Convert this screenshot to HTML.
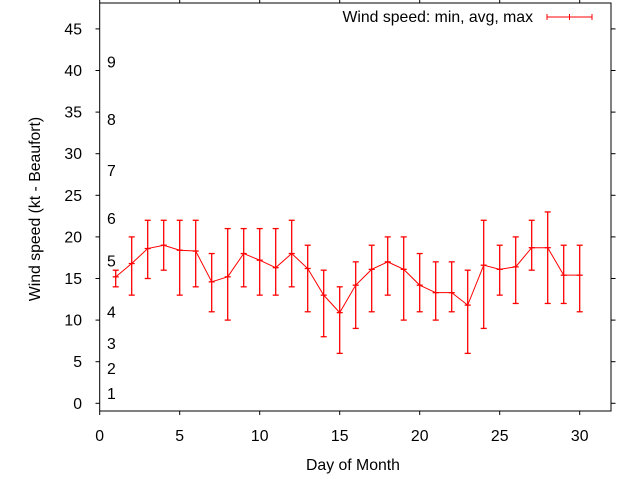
<!DOCTYPE html>
<html><head><meta charset="utf-8"><style>
html,body{margin:0;padding:0;background:#fff;}
svg{display:block;font-family:"Liberation Sans",sans-serif;}
</style></head><body>
<svg id="chart" width="640" height="480" viewBox="0 0 640 480" xmlns="http://www.w3.org/2000/svg">
<rect x="99.7" y="3" width="511.3" height="408" fill="none" stroke="#000" stroke-width="1"/>
<g id="axes"></g>
<g id="series"></g>
<text x="353" y="470" font-size="15.8" text-anchor="middle">Day of Month</text>
<text x="40" y="209" font-size="15.8" text-anchor="middle" transform="rotate(-90 40 209)">Wind speed (kt - Beaufort)</text>
<g>
<text x="533" y="22" font-size="15.8" text-anchor="end">Wind speed: min, avg, max</text>
<line x1="547" y1="17" x2="592" y2="17" stroke="#f00"/>
<line x1="547" y1="14" x2="547" y2="20" stroke="#f00"/>
<line x1="569.5" y1="14" x2="569.5" y2="20" stroke="#f00"/>
<line x1="592" y1="14" x2="592" y2="20" stroke="#f00"/>
</g>
</svg>
<script>
const days=[1,2,3,4,5,6,7,8,9,10,11,12,13,14,15,16,17,18,19,20,21,22,23,24,25,26,27,28,29,30];
const avgVals=[15.2,16.8,18.6,19.0,18.4,18.3,14.6,15.2,18.0,17.2,16.3,18.0,16.2,13.0,10.9,14.2,16.1,17.0,16.1,14.2,13.3,13.3,11.8,16.6,16.1,16.4,18.7,18.7,15.4,15.4];
const minVals=[14,13,15,16,13,14,11,10,14,13,13,14,11,8,6,9,11,13,10,11,10,11,6,9,13,12,16,12,12,11];
const maxVals=[16,20,22,22,22,22,18,21,21,21,21,22,19,16,14,17,19,20,20,18,17,17,16,22,19,20,22,23,19,19];
const xTicks=[0,5,10,15,20,25,30];
const yTicks=[0,5,10,15,20,25,30,35,40,45];
const beaufortLabels=["1","2","3","4","5","6","7","8","9"];
const beaufortVals=[1.2,4.2,7.2,11,17.1,22.2,28,34.1,41];
const NS="http://www.w3.org/2000/svg";
const X0=99.7,PX=16,Y0=403.3,PY=8.32;
const sx=v=>X0+v*PX, sy=v=>Y0-v*PY;
function mk(tag,attrs,parent){const e=document.createElementNS(NS,tag);for(const k in attrs)e.setAttribute(k,attrs[k]);parent.appendChild(e);return e;}
const ax=document.getElementById('axes');
xTicks.forEach(t=>{
 const x=sx(t);
 const a=mk('line',{x1:x,y1:411,x2:x,y2:415,stroke:'#000'},ax);
 
 
 const b=mk('line',{x1:x,y1:3,x2:x,y2:-1,stroke:'#000'},ax);
 
 
 const l=mk('text',{x:x,y:441,'font-size':15.8,'text-anchor':'middle'},ax);l.textContent=t;
 
 
});
yTicks.forEach(t=>{
 const y=sy(t);
 const a=mk('line',{x1:95.5,y1:y,x2:99.7,y2:y,stroke:'#000'},ax);
 
 
 const b=mk('line',{x1:611,y1:y,x2:615.5,y2:y,stroke:'#000'},ax);
 
 
 const l=mk('text',{x:82,y:y+5.5,'font-size':15.8,'text-anchor':'end'},ax);l.textContent=t;
 
 
});
beaufortLabels.forEach((s,i)=>{
 const l=mk('text',{x:107,y:sy(beaufortVals[i])+5.5,'font-size':15.8},ax);l.textContent=s;
 
 
});
const g=document.getElementById('series');
const pts=days.map((d,i)=>sx(d)+','+sy(avgVals[i])).join(' ');
const pl=mk('polyline',{points:pts,fill:'none',stroke:'#f00','stroke-width':1},g);


days.forEach((d,i)=>{
 const x=sx(d);
 const bar=mk('g',{stroke:'#f00','stroke-width':1.3},g);
 
 
 mk('line',{x1:x,y1:sy(minVals[i]),x2:x,y2:sy(maxVals[i])},bar);
 mk('line',{x1:x-3,y1:sy(minVals[i]),x2:x+3,y2:sy(minVals[i])},bar);
 mk('line',{x1:x-3,y1:sy(maxVals[i]),x2:x+3,y2:sy(maxVals[i])},bar);
 mk('line',{x1:x-3,y1:sy(avgVals[i]),x2:x+3,y2:sy(avgVals[i])},bar);
});
</script>
</body></html>
